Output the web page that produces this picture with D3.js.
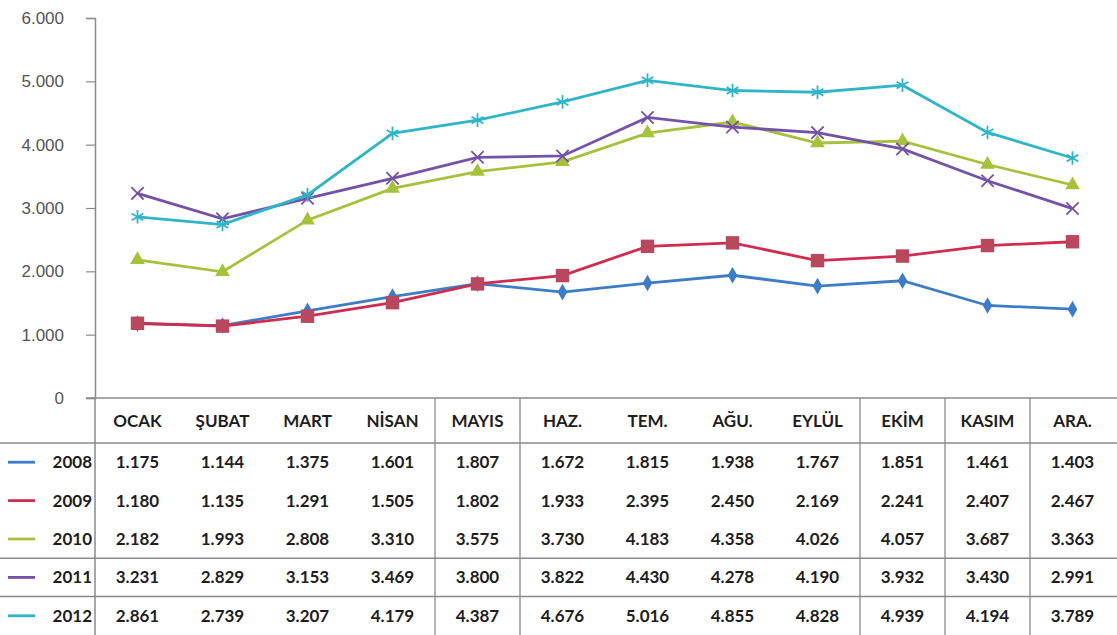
<!DOCTYPE html>
<html>
<head>
<meta charset="utf-8">
<script src="https://cdn.jsdelivr.net/npm/d3@7"></script>
<style>
  body { margin: 0; background: #fff; }
  svg { display: block; font-family: Lato, "Open Sans", sans-serif; }
</style>
</head>
<body>
<svg id="chart" width="1117" height="635"></svg>
<script>
var months = ["OCAK", "ŞUBAT", "MART", "NİSAN", "MAYIS", "HAZ.", "TEM.", "AĞU.", "EYLÜL", "EKİM", "KASIM", "ARA."];
var years = ["2008", "2009", "2010", "2011", "2012"];
var v2008 = [1175, 1144, 1375, 1601, 1807, 1672, 1815, 1938, 1767, 1851, 1461, 1403];
var v2009 = [1180, 1135, 1291, 1505, 1802, 1933, 2395, 2450, 2169, 2241, 2407, 2467];
var v2010 = [2182, 1993, 2808, 3310, 3575, 3730, 4183, 4358, 4026, 4057, 3687, 3363];
var v2011 = [3231, 2829, 3153, 3469, 3800, 3822, 4430, 4278, 4190, 3932, 3430, 2991];
var v2012 = [2861, 2739, 3207, 4179, 4387, 4676, 5016, 4855, 4828, 4939, 4194, 3789];
var yTicks = [0, 1000, 2000, 3000, 4000, 5000, 6000];

var values = [v2008, v2009, v2010, v2011, v2012];
var series = years.map(function (y, i) {
  return { name: y, data: values[i] };
});

var colors = ["#3d7cc6", "#cf2c50", "#a6c23c", "#7452a8", "#30b4c8"];
var markFill = ["#3d7cc6", "#b8485e", "#a6c23c", "#7452a8", "#30b4c8"];
var shapes = [d3.symbolDiamond, d3.symbolSquare, d3.symbolTriangle, d3.symbolX, d3.symbolAsterisk];
var sizes = [80, 180, 95, 100, 130];
var stroked = [false, false, false, true, true];

var tr = d3.formatLocale({ decimal: ",", thousands: ".", grouping: [3], currency: ["", ""] });
var fmt = tr.format(",d");

var svg = d3.select("#chart");
var plotL = 95, plotR = 1115, plotT = 18, plotB = 398;
var headerBottom = 443, rowH = 38.4;

var x = d3.scaleBand().domain(months).range([plotL, plotR]);
var y = d3.scaleLinear().domain([0, 6000]).range([plotB, plotT]);

// y axis
var yAxis = svg.append("g")
  .attr("transform", "translate(" + plotL + ",0)")
  .call(d3.axisLeft(y).tickValues(yTicks).tickFormat(fmt).tickSize(9).tickPadding(22));
yAxis.select(".domain").attr("stroke", "#8a8a8a").attr("stroke-width", 1.5);
yAxis.selectAll(".tick line").attr("stroke", "#8a8a8a").attr("stroke-width", 1.2);
yAxis.selectAll(".tick text").attr("fill", "#555").style("font-size", "17px");

// lines
var line = d3.line()
  .x(function (d, i) { return x(months[i]) + x.bandwidth() / 2; })
  .y(function (d) { return y(d); });

var g = svg.selectAll(".serie")
  .data(series)
  .enter().append("g")
  .attr("class", "serie");

g.append("path")
  .attr("d", function (d) { return line(d.data); })
  .attr("fill", "none")
  .attr("stroke", function (d, i) { return colors[i]; })
  .attr("stroke-width", 2.8);

g.each(function (s, si) {
  d3.select(this).selectAll("path.mk")
    .data(s.data)
    .enter().append("path")
    .attr("class", "mk")
    .attr("transform", function (d, i) {
      return "translate(" + (x(months[i]) + x.bandwidth() / 2) + "," + y(d) + ")";
    })
    .attr("d", d3.symbol().type(shapes[si]).size(sizes[si]))
    .attr("fill", stroked[si] ? "none" : markFill[si])
    .attr("stroke", stroked[si] ? colors[si] : "none")
    .attr("stroke-width", 1.8);
});

// data table
var table = svg.append("g").attr("class", "table");
var lineColor = "#8a8a8a";

table.append("line")
  .attr("x1", plotL - 9).attr("x2", 1117).attr("y1", plotB).attr("y2", plotB)
  .attr("stroke", lineColor).attr("stroke-width", 1.5);
[headerBottom, headerBottom + rowH * 3, headerBottom + rowH * 4].forEach(function (yy) {
  table.append("line")
    .attr("x1", 0).attr("x2", 1117).attr("y1", yy).attr("y2", yy)
    .attr("stroke", lineColor).attr("stroke-width", 1.5);
});

table.append("line")
  .attr("x1", plotL).attr("x2", plotL).attr("y1", plotB).attr("y2", 635)
  .attr("stroke", lineColor).attr("stroke-width", 1.5);
[4, 5, 9, 10, 11].forEach(function (k) {
  var xx = x(months[k]);
  table.append("line")
    .attr("x1", xx).attr("x2", xx).attr("y1", plotB).attr("y2", 635)
    .attr("stroke", lineColor).attr("stroke-width", 1.3);
});

table.selectAll("text.hdr")
  .data(months)
  .enter().append("text")
  .attr("class", "hdr")
  .attr("x", function (d) { return x(d) + x.bandwidth() / 2; })
  .attr("y", (plotB + headerBottom) / 2 + 6)
  .attr("text-anchor", "middle")
  .attr("fill", "#1e1e1e")
  .style("font-size", "17px")
  .style("font-weight", "bold")
  .text(function (d) { return d; });

series.forEach(function (s, si) {
  var cy = headerBottom + rowH * si + rowH / 2;
  var row = table.append("g");
  row.append("line")
    .attr("x1", 8).attr("x2", 35).attr("y1", cy).attr("y2", cy)
    .attr("stroke", colors[si]).attr("stroke-width", 2.8);
  row.append("text")
    .attr("x", 92).attr("y", cy + 6)
    .attr("text-anchor", "end")
    .attr("fill", "#1e1e1e")
    .style("font-size", "17px")
    .style("font-weight", "bold")
    .text(s.name);
  row.selectAll("text.val")
    .data(s.data)
    .enter().append("text")
    .attr("class", "val")
    .attr("x", function (d, i) { return x(months[i]) + x.bandwidth() / 2; })
    .attr("y", cy + 6)
    .attr("text-anchor", "middle")
    .attr("fill", "#1e1e1e")
    .style("font-size", "17px")
    .style("font-weight", "bold")
    .text(function (d) { return fmt(d); });
});
</script>
</body>
</html>
